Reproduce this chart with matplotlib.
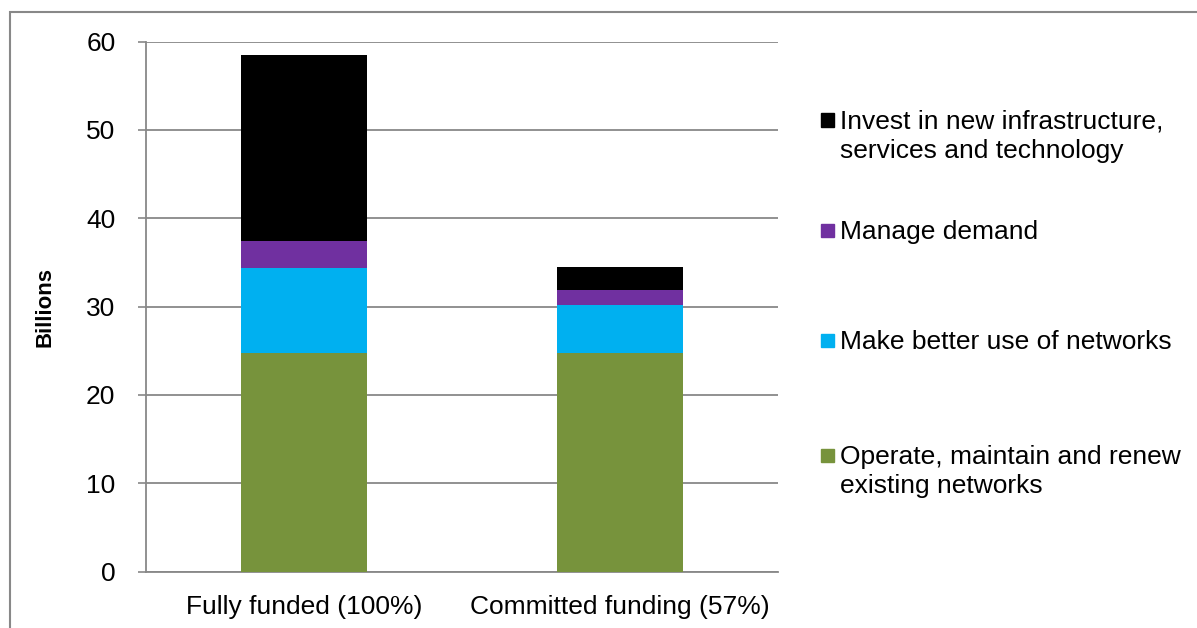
import matplotlib
matplotlib.use("Agg")
import matplotlib.pyplot as plt
from matplotlib.patches import Rectangle
import numpy as np

plt.rcParams['font.family'] = ['Liberation Sans', 'DejaVu Sans']

categories = ["Fully funded (100%)", "Committed funding (57%)"]
operate = [24.7, 24.7]
better_use = [9.7, 5.5]
manage = [3.0, 1.7]
invest = [21.1, 2.6]

series = [
    ("Operate, maintain and renew\nexisting networks", operate, "#77933C"),
    ("Make better use of networks", better_use, "#00B0F0"),
    ("Manage demand", manage, "#7030A0"),
    ("Invest in new infrastructure,\nservices and technology", invest, "#000000"),
]
y_ticks = [0, 10, 20, 30, 40, 50, 60]

W, H = 1197, 628
fig = plt.figure(figsize=(W / 100, H / 100), dpi=100)
ax = fig.add_axes([146 / W, 1 - 571.7 / H, (778 - 146) / W, (571.7 - 41.5) / H])

grid_col = "#888888"
x = np.arange(len(categories))
bottom = np.zeros(len(categories))
for label, vals, col in series:
    ax.bar(x, vals, width=0.4, bottom=bottom, color=col, zorder=3, linewidth=0)
    bottom += np.array(vals)

ax.set_xlim(-0.5, 1.5)
ax.set_ylim(0, 60)
ax.set_yticks(y_ticks)
ax.set_xticks(x)
ax.set_xticklabels(categories, fontsize=19)
ax.tick_params(axis='y', labelsize=19, length=6, width=1.2, color=grid_col, pad=16)
ax.tick_params(axis='x', length=0, pad=17)
ax.yaxis.grid(True, color=grid_col, linewidth=1.3, zorder=0)
ax.set_axisbelow(True)
for s in ("top", "right"):
    ax.spines[s].set_visible(False)
for s in ("left", "bottom"):
    ax.spines[s].set_color(grid_col)
    ax.spines[s].set_linewidth(1.3)
ax.set_ylabel("Billions", fontsize=16, fontweight="bold", labelpad=22)

# legend drawn as boxes beside the plot, top entry first
entry_y = [120, 230, 340, 455]
for (label, vals, col), yy in zip(series[::-1], entry_y):
    fig.patches.append(Rectangle((821 / W, 1 - (yy + 6.5) / H), 13 / W, 13 / H,
                                 transform=fig.transFigure, color=col))
    first, *rest = label.split("\n")
    fig.text(840 / W, 1 - (yy + 9) / H, first, fontsize=19, va='baseline', ha='left')
    for i, line in enumerate(rest, start=1):
        fig.text(840 / W, 1 - (yy + 9 + 29 * i) / H, line, fontsize=19,
                 va='baseline', ha='left')

# outer frame
fig.patches.append(Rectangle((10 / W, -0.05), 1.1, 1 - 12 / H + 0.05, transform=fig.transFigure,
                             fill=False, edgecolor=grid_col, linewidth=1.5))

fig.savefig("out.png", dpi=100)
